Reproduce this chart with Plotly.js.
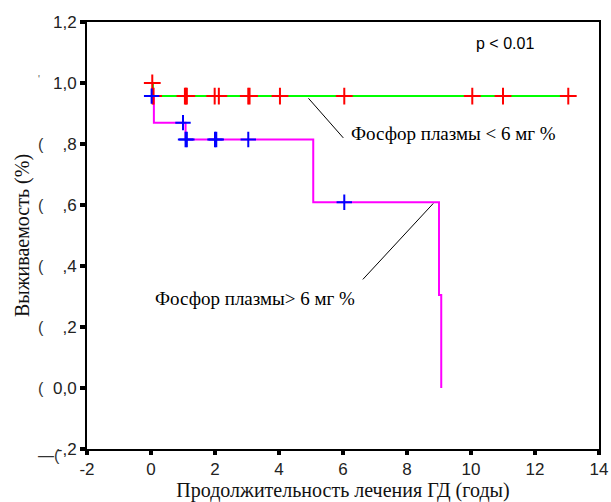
<!DOCTYPE html>
<html><head><meta charset="utf-8">
<script src="https://cdn.plot.ly/plotly-3.0.1.min.js"></script>
<style>html,body{margin:0;padding:0;background:#fff}#chart{width:611px;height:502px}</style>
</head><body><div id="chart"></div>
<script>
// Group "> 6 mg %" (magenta step line, blue censor marks)
var highTimes = [0.02, 0.09, 1.08, 5.07, 9.0, 9.07];
var highSurv  = [0.957, 0.870, 0.815, 0.609, 0.305, 0.0];
var highCensT = [0.02, 1.0, 1.08, 1.12, 2.0, 2.04, 3.04, 6.04];
var highCensS = [0.957, 0.870, 0.815, 0.815, 0.815, 0.815, 0.815, 0.609];
// Group "< 6 mg %" (green step line, red censor marks)
var lowTimes = [0.04, 0.06, 13.04];
var lowSurv  = [1.0, 0.957, 0.957];
var lowCensT = [0.04, 0.05, 0.08, 1.06, 1.09, 1.12, 1.99, 2.12, 3.04, 3.08, 4.03, 6.04, 10.04, 11.0, 13.04];
var lowCensS = [1.0, 0.957, 0.957, 0.957, 0.957, 0.957, 0.957, 0.957, 0.957, 0.957, 0.957, 0.957, 0.957, 0.957, 0.957];
var xTickVals = [-2, 0, 2, 4, 6, 8, 10, 12, 14];
var yTickVals = [-0.2, 0, 0.2, 0.4, 0.6, 0.8, 1.0, 1.2];
var yTickText = ["-,2", "0,0", ",2", ",4", ",6", ",8", "1,0", "1,2"];

var traces = [
  {x: highTimes, y: highSurv, mode: 'lines', line: {shape: 'hv', color: '#ff00ff', width: 2}, hoverinfo: 'skip'},
  {x: lowTimes, y: lowSurv, mode: 'lines', line: {shape: 'hv', color: '#00ff00', width: 2}, hoverinfo: 'skip'},
  {x: lowCensT, y: lowCensS, mode: 'markers', marker: {symbol: 'cross-thin', size: 12, line: {color: '#ff0000', width: 2}}},
  {x: highCensT, y: highCensS, mode: 'markers', marker: {symbol: 'cross-thin', size: 11, line: {color: '#0000ff', width: 2}}}
];

var serif = 'Liberation Serif, Times New Roman, serif';
var sans = 'Liberation Sans, Arial, sans-serif';

var artifacts = [];
[0.8, 0.6, 0.4, 0.2, 0.0].forEach(function(v){
  artifacts.push({xref:'paper', yref:'y', x:-0.1, y:v, text:'(', showarrow:false, font:{family:sans, size:16, color:'#333'}});
});
[1.2, 1.0].forEach(function(v){
  artifacts.push({xref:'paper', yref:'y', x:-0.1, y:v+0.01, text:"'", showarrow:false, font:{family:sans, size:10, color:'#555'}});
});
artifacts.push({xref:'paper', yref:'paper', x:-0.1, y:-0.04, text:'—(', showarrow:false, font:{family:sans, size:16, color:'#333'}});

var layout = {
  width: 611, height: 502,
  margin: {l: 87, r: 12, t: 22, b: 53},
  paper_bgcolor: '#fff', plot_bgcolor: '#fff',
  showlegend: false,
  xaxis: {
    range: [-2, 14], tickvals: xTickVals, ticktext: xTickVals.map(String),
    showgrid: false, zeroline: false,
    showline: true, linecolor: '#000', linewidth: 2, mirror: true,
    ticks: 'outside', ticklen: 4, tickwidth: 4, tickcolor: '#000',
    tickfont: {family: sans, size: 17, color: '#222'},
    title: {text: 'Продолжительность лечения ГД (годы)', font: {family: serif, size: 20, color: '#111'}, standoff: 4}
  },
  yaxis: {
    range: [-0.2, 1.2], tickvals: yTickVals, ticktext: yTickText,
    showgrid: false, zeroline: false,
    showline: true, linecolor: '#000', linewidth: 2, mirror: true,
    ticks: 'outside', ticklen: 5, tickwidth: 4, tickcolor: '#000',
    tickfont: {family: sans, size: 17, color: '#222'},
    title: {text: 'Выживаемость (%)', font: {family: serif, size: 20, color: '#111'}, standoff: 18}
  },
  shapes: [
    {type: 'line', xref: 'x', yref: 'y', x0: 4.92, y0: 0.950, x1: 6.01, y1: 0.820, line: {color: '#000', width: 1}},
    {type: 'line', xref: 'x', yref: 'y', x0: 8.82, y0: 0.605, x1: 6.62, y1: 0.356, line: {color: '#000', width: 1}}
  ],
  annotations: [
    {xref: 'x', yref: 'y', x: 11.06, y: 1.13, text: 'p < 0.01', showarrow: false, font: {family: sans, size: 16, color: '#000'}},
    {xref: 'x', yref: 'y', x: 9.44, y: 0.834, text: 'Фосфор плазмы < 6 мг %', showarrow: false, font: {family: serif, size: 19, color: '#000'}},
    {xref: 'x', yref: 'y', x: 3.25, y: 0.295, text: 'Фосфор плазмы> 6 мг %', showarrow: false, font: {family: serif, size: 19, color: '#000'}}
  ].concat(artifacts)
};

Plotly.newPlot('chart', traces, layout, {displayModeBar: false, staticPlot: true});
</script></body></html>
